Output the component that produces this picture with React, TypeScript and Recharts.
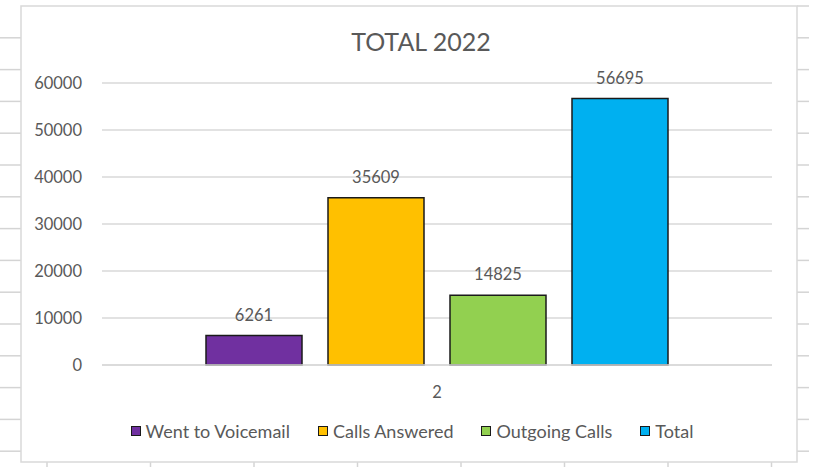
import React from 'react';
import { BarChart, Bar, XAxis, YAxis, CartesianGrid, Legend, LabelList } from 'recharts';

const categories = ['2'];
const seriesNames = ['Went to Voicemail', 'Calls Answered', 'Outgoing Calls', 'Total'];
const seriesKeys = ['voicemail', 'answered', 'outgoing', 'total'];
const seriesColors = ['#7030A0', '#FFC000', '#92D050', '#00B0F0'];
const voicemailValues = [6261];
const answeredValues = [35609];
const outgoingValues = [14825];
const totalValues = [56695];
const yTicks = [0, 10000, 20000, 30000, 40000, 50000, 60000];
const title = 'TOTAL 2022';

const data = categories.map((c, i) => ({
  name: c,
  voicemail: voicemailValues[i],
  answered: answeredValues[i],
  outgoing: outgoingValues[i],
  total: totalValues[i],
}));

const FONT = 'Lato, "Open Sans", sans-serif';
const TEXT = '#595959';
const GRID = '#d9d9d9';
const SHEET = '#d4d4d4';

const CustomLegend = () => (
  <div
    style={{
      display: 'flex',
      justifyContent: 'center',
      alignItems: 'center',
      height: 30,
      paddingLeft: 6,
      fontFamily: FONT,
      fontSize: 18,
      color: TEXT,
    }}
  >
    {seriesNames.map((n, i) => (
      <div key={n} style={{ display: 'flex', alignItems: 'center', marginRight: i < seriesNames.length - 1 ? 28 : 0 }}>
        <div
          style={{
            width: 8,
            height: 8,
            background: seriesColors[i],
            border: '1.5px solid #1a1a1a',
            marginRight: 5,
          }}
        />
        <span style={{ whiteSpace: 'nowrap', lineHeight: '20px' }}>{n}</span>
      </div>
    ))}
  </div>
);

export default function App() {
  const hLines: number[] = [];
  for (let k = 1; k <= 14; k++) hLines.push(6 + k * 31.8);
  const vTicks: number[] = [];
  for (let k = 0; k < 8; k++) vTicks.push(47 + k * 103.5);

  return (
    <div style={{ position: 'absolute', left: 0, top: 0, width: 821, height: 467, background: '#fff', overflow: 'hidden' }}>
      <svg width={821} height={467} style={{ position: 'absolute', left: 0, top: 0 }}>
        {hLines.map((y) => (
          <g key={y}>
            <line x1={0} x2={21} y1={y} y2={y} stroke={SHEET} strokeWidth={1.5} />
            <line x1={797} x2={809} y1={y} y2={y} stroke={SHEET} strokeWidth={1.5} />
          </g>
        ))}
        <line x1={797} x2={809} y1={6} y2={6} stroke={SHEET} strokeWidth={1.5} />
        {vTicks.map((x) => (
          <line key={x} x1={x} x2={x} y1={462} y2={467} stroke={SHEET} strokeWidth={1.5} />
        ))}
        <rect x={21} y={6} width={776} height={456} fill="#fff" stroke={GRID} strokeWidth={1.5} />
        <text x={421} y={51} textAnchor="middle" fontFamily={FONT} fontSize={25} fill={TEXT}>
          {title}
        </text>
      </svg>
      <div style={{ position: 'absolute', left: 21, top: 6 }}>
        <BarChart
          width={776}
          height={456}
          data={data}
          margin={{ top: 77, right: 25, bottom: 16, left: 0 }}
          barCategoryGap={104}
          barGap={26}
        >
          <CartesianGrid vertical={false} stroke={GRID} strokeWidth={1.5} />
          <XAxis
            dataKey="name"
            height={51}
            tickLine={false}
            axisLine={{ stroke: GRID, strokeWidth: 1.5 }}
            tickMargin={15}
            tick={{ fill: TEXT, fontSize: 16.5, fontFamily: FONT }}
          />
          <YAxis
            width={81}
            domain={[0, 60000]}
            ticks={yTicks}
            interval={0}
            tickLine={false}
            axisLine={false}
            tickMargin={14}
            tick={{ fill: TEXT, fontSize: 16.5, fontFamily: FONT }}
          />
          <Legend verticalAlign="bottom" height={30} width={776} wrapperStyle={{ left: 0, width: 776 }} content={<CustomLegend />} />
          {seriesKeys.map((k, i) => (
            <Bar
              key={k}
              dataKey={k}
              name={seriesNames[i]}
              fill={seriesColors[i]}
              stroke="#1a1a1a"
              strokeWidth={1.5}
              isAnimationActive={false}
            >
              <LabelList
                dataKey={k}
                position="top"
                offset={15}
                fill={TEXT}
                fontSize={16.5}
                fontFamily={FONT}
              />
            </Bar>
          ))}
        </BarChart>
      </div>
    </div>
  );
}
